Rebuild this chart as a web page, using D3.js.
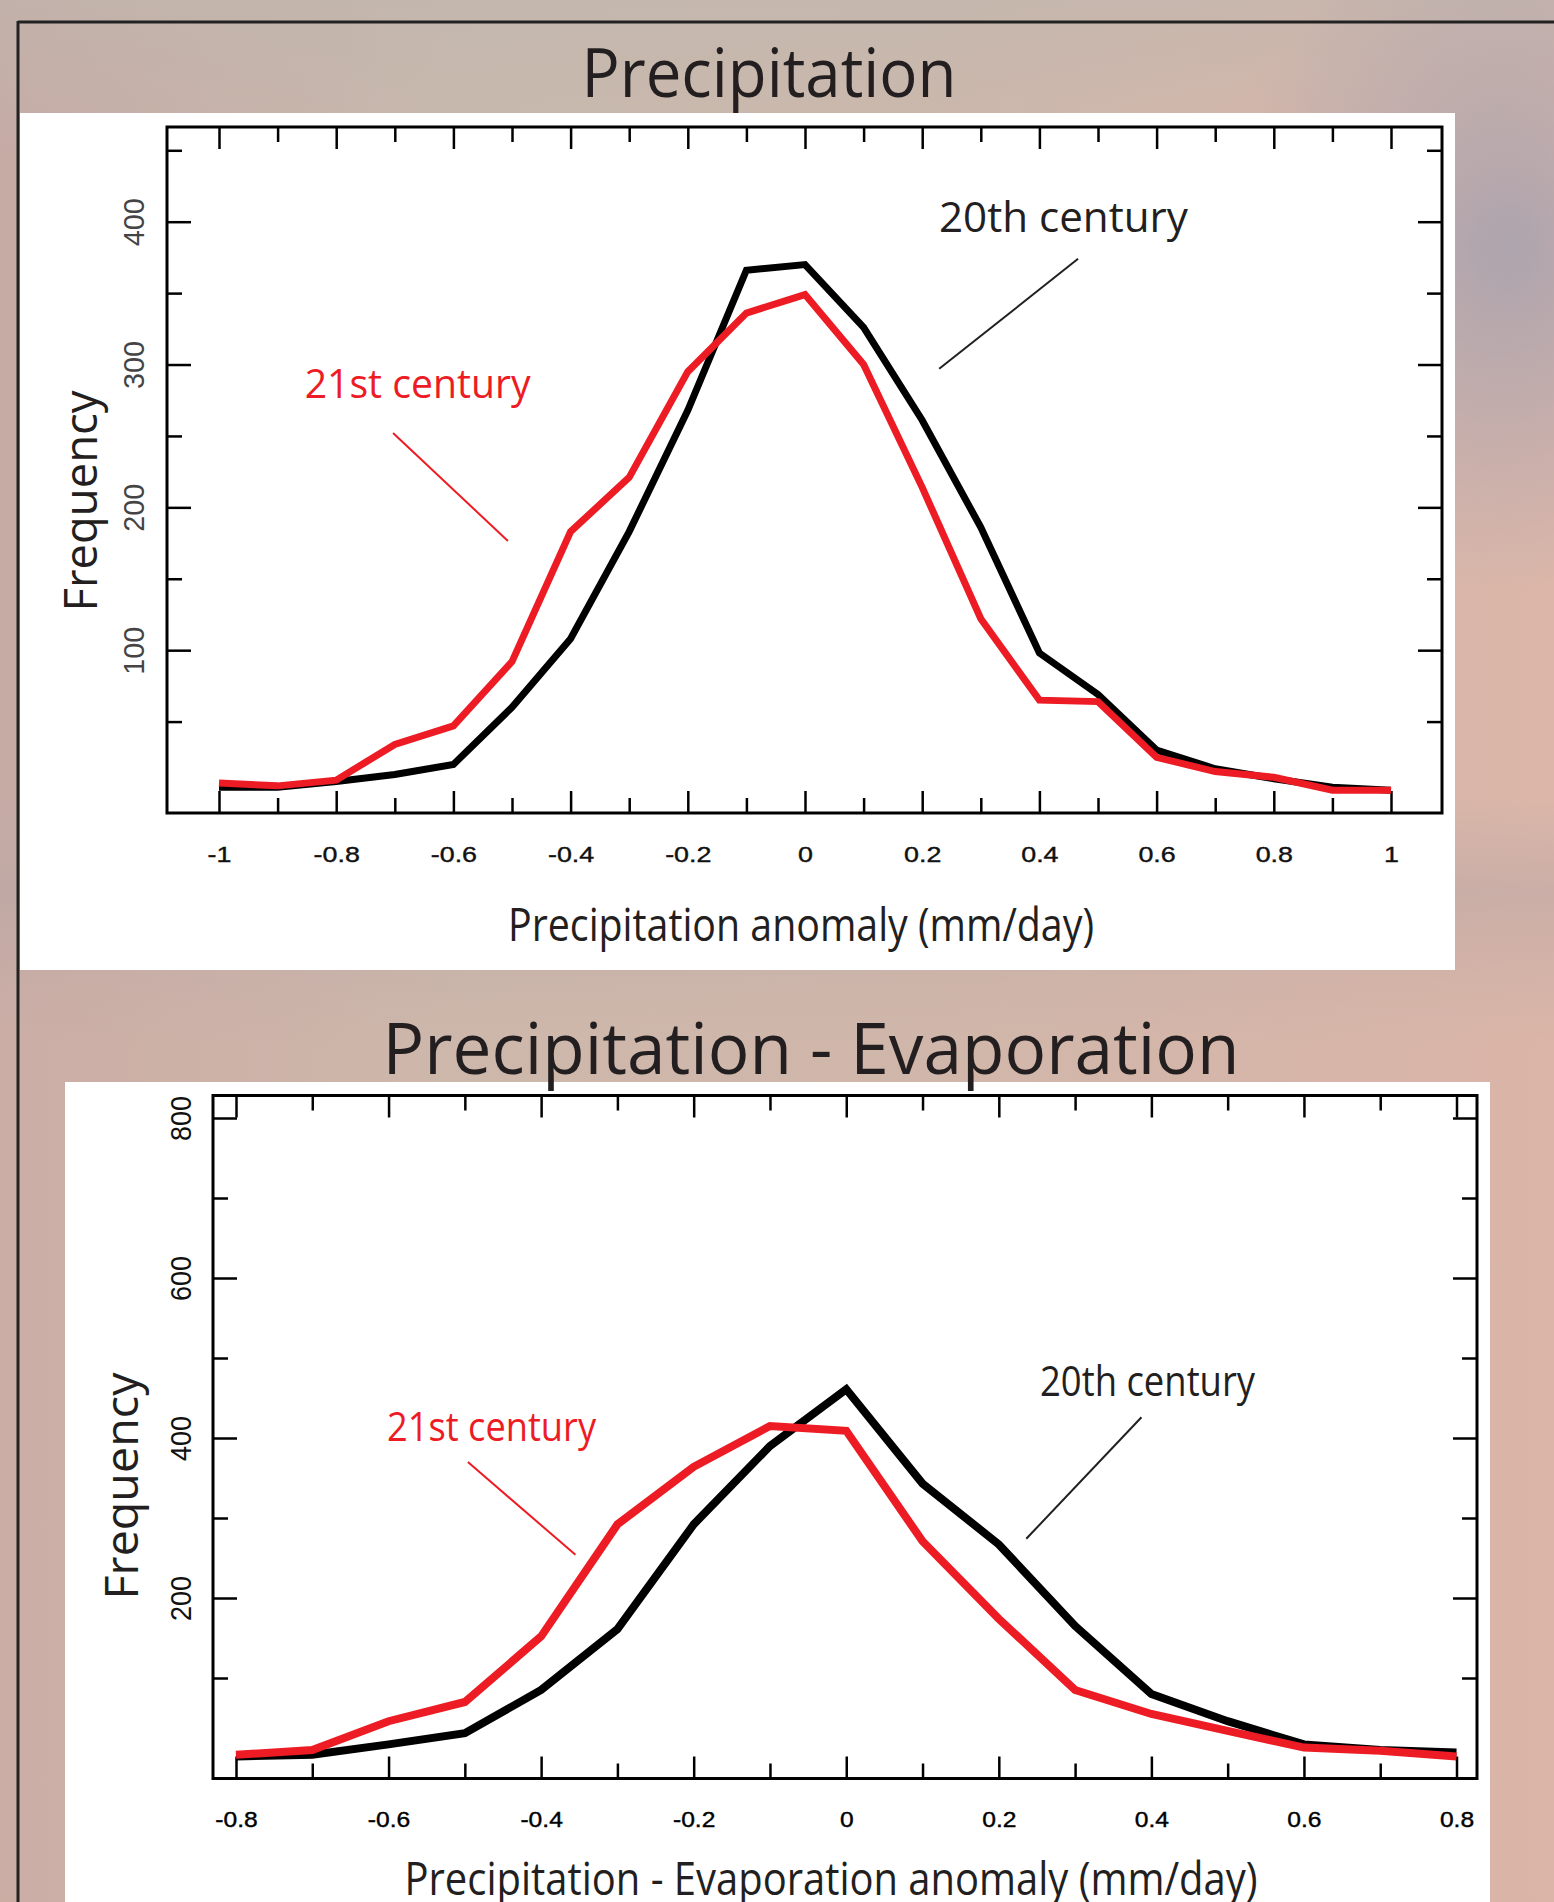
<!DOCTYPE html>
<html>
<head>
<meta charset="utf-8">
<script src="https://cdn.jsdelivr.net/npm/d3@7"></script>
<style>
  html, body { margin: 0; padding: 0; background: #cdb6ab; }
  svg { display: block; }
</style>
</head>
<body>
<script>
// ---- data ----
const precipX = [-1, -0.9, -0.8, -0.7, -0.6, -0.5, -0.4, -0.3, -0.2, -0.1, 0,
                 0.1, 0.2, 0.3, 0.4, 0.5, 0.6, 0.7, 0.8, 0.9, 1];
const precip20th = [4, 4, 8, 13, 20, 60, 108, 183, 268, 366, 370,
                    326, 261, 186, 98, 69, 30, 17, 10, 4, 2];
const precip21st = [7, 5, 9, 34, 47, 92, 183, 221, 295, 336, 349,
                    300, 214, 122, 65, 64, 25, 15, 11, 2, 2];

const pmeX = [-0.8, -0.7, -0.6, -0.5, -0.4, -0.3, -0.2, -0.1, 0,
              0.1, 0.2, 0.3, 0.4, 0.5, 0.6, 0.7, 0.8];
const pme20th = [2, 4, 17, 31, 85, 161, 292, 390, 461,
                 343, 267, 165, 80, 46, 17, 10, 7];
const pme21st = [4, 10, 46, 70, 152, 292, 364, 415, 409,
                 271, 174, 85, 55, 34, 13, 9, 2];

const precipMajor = [-1, -0.8, -0.6, -0.4, -0.2, 0, 0.2, 0.4, 0.6, 0.8, 1];
const precipMinor = [-0.9, -0.7, -0.5, -0.3, -0.1, 0.1, 0.3, 0.5, 0.7, 0.9];
const precipYMajor = [100, 200, 300, 400];
const precipYMinor = [50, 150, 250, 350, 450];

const pmeMajor = [-0.8, -0.6, -0.4, -0.2, 0, 0.2, 0.4, 0.6, 0.8];
const pmeMinor = [-0.7, -0.5, -0.3, -0.1, 0.1, 0.3, 0.5, 0.7];
const pmeYMajor = [200, 400, 600, 800];
const pmeYMinor = [100, 300, 500, 700];

const RED = "#ed1c24";
const INK = "#231f20";
const W = 1554, H = 1902;

const svg = d3.select("body").append("svg").attr("width", W).attr("height", H);
const defs = svg.append("defs");

// blurred photo background, approximated with gradients
const bg = defs.append("linearGradient").attr("id", "bg")
  .attr("x1", 0).attr("x2", 1).attr("y1", 0).attr("y2", 0);
[["0%", "#c6aba5"], ["30%", "#c9b9ad"], ["60%", "#cdb8ac"], ["85%", "#d6b6aa"], ["100%", "#dbb6a9"]]
  .forEach(s => bg.append("stop").attr("offset", s[0]).attr("stop-color", s[1]));
const tint = defs.append("radialGradient").attr("id", "tint")
  .attr("cx", 0.97).attr("cy", 0.13).attr("r", 0.18);
tint.append("stop").attr("offset", "0%").attr("stop-color", "#a8a2ae").attr("stop-opacity", 0.9);
tint.append("stop").attr("offset", "100%").attr("stop-color", "#a8a2ae").attr("stop-opacity", 0);
const band = defs.append("linearGradient").attr("id", "band")
  .attr("x1", 0).attr("x2", 0).attr("y1", 0).attr("y2", 1);
band.append("stop").attr("offset", "0%").attr("stop-color", "#bfb6ae").attr("stop-opacity", 0.6);
band.append("stop").attr("offset", "8%").attr("stop-color", "#bfb6ae").attr("stop-opacity", 0);
band.append("stop").attr("offset", "42%").attr("stop-color", "#b9a6a4").attr("stop-opacity", 0);
band.append("stop").attr("offset", "47%").attr("stop-color", "#b9a6a4").attr("stop-opacity", 0.5);
band.append("stop").attr("offset", "55%").attr("stop-color", "#d8b3a6").attr("stop-opacity", 0.3);
band.append("stop").attr("offset", "100%").attr("stop-color", "#d8b3a6").attr("stop-opacity", 0.3);

svg.append("rect").attr("width", W).attr("height", H).attr("fill", "url(#bg)");
svg.append("rect").attr("width", W).attr("height", H).attr("fill", "url(#band)");
svg.append("rect").attr("width", W).attr("height", H).attr("fill", "url(#tint)");

// dark frame lines of the slide
svg.append("line").attr("x1", 18).attr("x2", W).attr("y1", 22).attr("y2", 22)
  .attr("stroke", "#222").attr("stroke-width", 3);
svg.append("line").attr("x1", 18).attr("x2", 18).attr("y1", 21).attr("y2", H)
  .attr("stroke", "#222").attr("stroke-width", 3);

function fitText(sel, len) {
  return sel.attr("textLength", len).attr("lengthAdjust", "spacingAndGlyphs");
}

function panel(o) {
  const x = d3.scaleLinear().domain(o.xDomain).range(o.xRange);
  const y = d3.scaleLinear().domain(o.yDomain).range(o.yRange);
  const f = o.frame;

  svg.append("rect").attr("x", o.white[0]).attr("y", o.white[1])
    .attr("width", o.white[2] - o.white[0]).attr("height", o.white[3] - o.white[1])
    .attr("fill", "#fff");

  fitText(svg.append("text").attr("x", o.title.cx).attr("y", o.title.y)
    .attr("text-anchor", "middle").attr("font-family", "Open Sans")
    .attr("font-size", o.title.size).attr("fill", INK).text(o.title.text), o.title.len);

  const g = svg.append("g");

  const xfmt = d => String(Math.round(d * 10) / 10);
  const styleAxis = a => {
    a.select(".domain").remove();
    a.selectAll(".tick line").attr("stroke", "#000").attr("stroke-width", 2.5);
  };

  // bottom / top ticks
  g.append("g").attr("transform", `translate(0,${f.y1})`)
    .call(d3.axisBottom(x).tickValues(o.xMajor).tickSize(-22).tickPadding(33).tickFormat(xfmt))
    .call(styleAxis)
    .call(a => a.selectAll("text")
      .attr("font-family", "Liberation Sans").attr("font-size", 22)
      .attr("fill", o.xLabelColor).attr("stroke", o.xLabelColor).attr("stroke-width", 0.4)
      .attr("transform", `scale(${o.xStretch},1)`));
  g.append("g").attr("transform", `translate(0,${f.y1})`)
    .call(d3.axisBottom(x).tickValues(o.xMinor).tickSize(-15).tickFormat(""))
    .call(styleAxis);
  g.append("g").attr("transform", `translate(0,${f.y0})`)
    .call(d3.axisTop(x).tickValues(o.xMajor).tickSize(-22).tickFormat(""))
    .call(styleAxis);
  g.append("g").attr("transform", `translate(0,${f.y0})`)
    .call(d3.axisTop(x).tickValues(o.xMinor).tickSize(-15).tickFormat(""))
    .call(styleAxis);

  // left / right ticks
  g.append("g").attr("transform", `translate(${f.x0},0)`)
    .call(d3.axisLeft(y).tickValues(o.yMajor).tickSize(-24).tickFormat(d3.format("d")))
    .call(styleAxis)
    .call(a => a.selectAll("text")
      .attr("font-family", "Liberation Sans").attr("font-size", 29)
      .attr("fill", o.yLabelColor).attr("text-anchor", "middle")
      .attr("transform", "rotate(-90)").attr("x", 0).attr("y", o.yLabelOffset).attr("dy", "0.36em")
      .attr("textLength", o.yLabelLen).attr("lengthAdjust", "spacingAndGlyphs"));
  g.append("g").attr("transform", `translate(${f.x0},0)`)
    .call(d3.axisLeft(y).tickValues(o.yMinor).tickSize(-15).tickFormat(""))
    .call(styleAxis);
  g.append("g").attr("transform", `translate(${f.x1},0)`)
    .call(d3.axisRight(y).tickValues(o.yMajor).tickSize(-24).tickFormat(""))
    .call(styleAxis);
  g.append("g").attr("transform", `translate(${f.x1},0)`)
    .call(d3.axisRight(y).tickValues(o.yMinor).tickSize(-15).tickFormat(""))
    .call(styleAxis);

  // frame
  g.append("rect").attr("x", f.x0).attr("y", f.y0)
    .attr("width", f.x1 - f.x0).attr("height", f.y1 - f.y0)
    .attr("fill", "none").attr("stroke", "#000").attr("stroke-width", 3);

  // series
  const line = d3.line().x((d, i) => x(o.xs[i])).y(d => y(d));
  g.append("path").datum(o.s20).attr("d", line)
    .attr("fill", "none").attr("stroke", "#000").attr("stroke-width", o.lineWidth);
  g.append("path").datum(o.s21).attr("d", line)
    .attr("fill", "none").attr("stroke", RED).attr("stroke-width", o.lineWidth);

  // annotations
  o.notes.forEach(n => {
    g.append("line")
      .attr("x1", x(n.x1)).attr("y1", y(n.y1)).attr("x2", x(n.x2)).attr("y2", y(n.y2))
      .attr("stroke", n.color).attr("stroke-width", 2);
    fitText(g.append("text").attr("x", x(n.tx)).attr("y", y(n.ty))
      .attr("text-anchor", "middle").attr("font-family", "Open Sans")
      .attr("font-size", n.size).attr("fill", n.color).text(n.label), n.len);
  });

  // axis titles
  fitText(g.append("text").attr("x", o.xTitle.cx).attr("y", o.xTitle.y)
    .attr("text-anchor", "middle").attr("font-family", "Open Sans")
    .attr("font-size", 45).attr("fill", INK).text(o.xTitle.text), o.xTitle.len);
  fitText(g.append("text")
    .attr("transform", `translate(${o.yTitle.x},${o.yTitle.cy}) rotate(-90)`)
    .attr("text-anchor", "middle").attr("font-family", "Open Sans")
    .attr("font-size", 45).attr("fill", INK).text("Frequency"), o.yTitle.len);
}

panel({
  white: [20, 113, 1455, 970],
  frame: { x0: 167, x1: 1442, y0: 127, y1: 813 },
  xDomain: [-1, 1], xRange: [219, 1391],
  yDomain: [0, 400], yRange: [793, 221.7],
  xs: precipX, s20: precip20th, s21: precip21st,
  xMajor: precipMajor, xMinor: precipMinor,
  yMajor: precipYMajor, yMinor: precipYMinor,
  xStretch: 1.22, xLabelColor: "#111",
  yLabelColor: "#444", yLabelOffset: -33, yLabelLen: 48,
  lineWidth: 7,
  title: { text: "Precipitation", cx: 769, y: 97, size: 68, len: 375 },
  xTitle: { text: "Precipitation anomaly (mm/day)", cx: 801, y: 941, len: 586 },
  yTitle: { x: 97, cy: 501, len: 221 },
  notes: [
    { label: "20th century", color: INK, size: 42, len: 249, tx: 0.441, ty: 393,
      x1: 0.466, y1: 374, x2: 0.229, y2: 297 },
    { label: "21st century", color: RED, size: 41, len: 226, tx: -0.661, ty: 276.6,
      x1: -0.703, y1: 252, x2: -0.507, y2: 176.5 }
  ]
});

panel({
  white: [65, 1082, 1490, H],
  frame: { x0: 213, x1: 1477, y0: 1095.5, y1: 1778.5 },
  xDomain: [-0.8, 0.8], xRange: [236, 1456.5],
  yDomain: [0, 800], yRange: [1758, 1118],
  xs: pmeX, s20: pme20th, s21: pme21st,
  xMajor: pmeMajor, xMinor: pmeMinor,
  yMajor: pmeYMajor, yMinor: pmeYMinor,
  xStretch: 1.12, xLabelColor: "#000",
  yLabelColor: "#111", yLabelOffset: -32, yLabelLen: 45,
  lineWidth: 8,
  title: { text: "Precipitation - Evaporation", cx: 811, y: 1074, size: 71, len: 857 },
  xTitle: { text: "Precipitation - Evaporation anomaly (mm/day)", cx: 831, y: 1895, len: 853 },
  yTitle: { x: 138, cy: 1486, len: 227 },
  notes: [
    { label: "20th century", color: INK, size: 42, len: 215, tx: 0.395, ty: 453,
      x1: 0.387, y1: 426, x2: 0.236, y2: 274 },
    { label: "21st century", color: RED, size: 40, len: 209, tx: -0.465, ty: 396,
      x1: -0.496, y1: 370, x2: -0.355, y2: 254 }
  ]
});
</script>
</body>
</html>
